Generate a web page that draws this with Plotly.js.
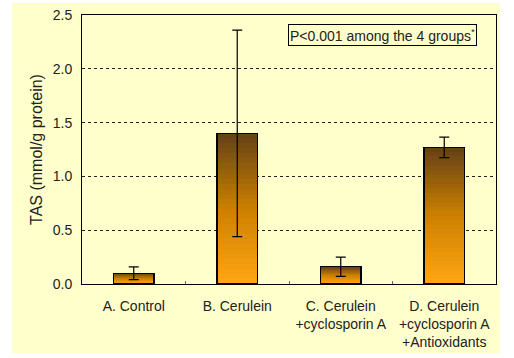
<!DOCTYPE html>
<html>
<head>
<meta charset="utf-8">
<script src="https://cdn.plot.ly/plotly-3.0.1.min.js"></script>
<style>
html,body{margin:0;padding:0;background:#ffffff;}
#chart{position:absolute;left:12px;top:3px;width:488px;height:350px;}
</style>
</head>
<body>
<div id="chart"></div>
<script>
var categories = ["A. Control", "B. Cerulein", "C. Cerulein<br>+cyclosporin A", "D. Cerulein<br>+cyclosporin A<br>+Antioxidants"];
var tasValues = [0.10, 1.40, 0.16, 1.27];
var tasErrors = [0.06, 0.96, 0.09, 0.095];
var yTickValues = [0, 0.5, 1.0, 1.5, 2.0, 2.5];
var yTickLabels = ["0.0", "0.5", "1.0", "1.5", "2.0", "2.5"];

var bottomColor = [255, 166, 20];
var midColor = [204, 128, 0];
var topColor = [100, 64, 22];
function mix(a, b, t) {
  return 'rgb(' + [0,1,2].map(function(i){ return Math.round(a[i] + (b[i]-a[i])*t); }).join(',') + ')';
}
function gradColor(t) { // t: 0 bottom -> 1 top
  if (t < 0.5) return mix(bottomColor, midColor, t / 0.5);
  return mix(midColor, topColor, (t - 0.5) / 0.5);
}

var N = 30;
var traces = [];
for (var k = 0; k < N; k++) {
  traces.push({
    type: 'bar',
    x: categories,
    y: tasValues.map(function(v){ return v / N; }),
    marker: {color: gradColor((k + 0.5) / N), line: {width: 0}},
    hoverinfo: 'skip',
    showlegend: false
  });
}
traces.push({
  type: 'bar',
  x: categories,
  y: tasValues,
  xaxis: 'x2',
  marker: {color: 'rgba(0,0,0,0)', line: {color: '#000000', width: 1.2}},
  hoverinfo: 'skip',
  showlegend: false
});
traces.push({
  type: 'scatter',
  mode: 'markers',
  x: categories,
  y: tasValues,
  xaxis: 'x2',
  marker: {size: 1, opacity: 0},
  error_y: {type: 'data', array: tasErrors, visible: true, color: '#000000', thickness: 1.2, width: 5},
  hoverinfo: 'skip',
  showlegend: false
});

var fontFam = 'Liberation Sans, Arial, sans-serif';
var layout = {
  width: 488, height: 350,
  margin: {l: 70, r: 4, t: 12, b: 69},
  paper_bgcolor: '#FFFFCC',
  plot_bgcolor: '#FFFFCC',
  barmode: 'stack',
  bargap: 0.61,
  showlegend: false,
  font: {family: fontFam, size: 14, color: '#222222'},
  xaxis: {
    type: 'category',
    categoryorder: 'array', categoryarray: categories,
    range: [-0.5, 3.5],
    showgrid: false, zeroline: false,
    showline: true, linecolor: '#000000', linewidth: 1, mirror: true,
    ticks: 'inside', tickson: 'boundaries', ticklen: 3, tickcolor: '#666666',
    ticklabelstandoff: 9,
    tickfont: {family: fontFam, size: 14, color: '#222222'},
    fixedrange: true
  },
  xaxis2: {
    type: 'category',
    categoryorder: 'array', categoryarray: categories,
    range: [-0.5, 3.5],
    overlaying: 'x', visible: false, fixedrange: true
  },
  yaxis: {
    range: [0, 2.5],
    tickvals: yTickValues, ticktext: yTickLabels,
    showgrid: true, gridcolor: '#222222', gridwidth: 1, griddash: '3px,3px',
    zeroline: false,
    showline: true, linecolor: '#000000', linewidth: 1, mirror: true,
    ticks: '', ticklabelstandoff: 6,
    tickfont: {family: fontFam, size: 14, color: '#222222'},
    title: {text: 'TAS (mmol/g protein)', font: {family: fontFam, size: 16, color: '#222222'}, standoff: 6},
    fixedrange: true
  },
  annotations: [{
    xref: 'paper', yref: 'paper', x: 0.727, y: 0.926,
    xanchor: 'center', yanchor: 'middle',
    text: 'P<0.001 among the 4 groups<sup>*</sup>',
    showarrow: false,
    font: {family: fontFam, size: 14, color: '#222222'},
    bordercolor: '#000000', borderwidth: 1, borderpad: 1,
    bgcolor: '#FFFFCC'
  }]
};

Plotly.newPlot('chart', traces, layout, {displayModeBar: false, staticPlot: true});
</script>
</body>
</html>
